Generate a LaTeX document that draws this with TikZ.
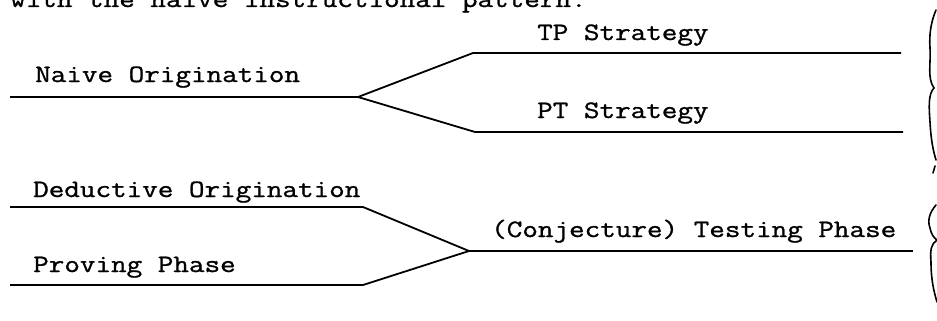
\documentclass[tikz,border=0pt]{standalone}
\usepackage{fontspec}
\newcommand{\tw}[1]{\special{pdf:literal 2 Tr 0.25 w}\scalebox{1.21}[1]{#1}\special{pdf:literal 0 Tr}}
\begin{document}
\begin{tikzpicture}[x=1pt,y=-1pt,
  lbl/.style={anchor=base west,inner sep=0pt,font=\ttfamily\fontsize{25}{30}\selectfont},
  wire/.style={line width=1.8pt,line join=miter},
  brace/.style={line width=1.6pt,line cap=round}]
\useasboundingbox (0,0) rectangle (937,321);
\clip (0,0) rectangle (937,321);
% cut-off caption line at the top
\node[lbl] (cap) at (10,7) {\tw{with the naive instructional pattern:}};
% labels
\node[lbl] (naive) at (35,82) {\tw{Naive Origination}};
\node[lbl] (tp) at (537,40) {\tw{TP Strategy}};
\node[lbl] (pt) at (537,118) {\tw{PT Strategy}};
\node[lbl] (ded) at (33,197) {\tw{Deductive Origination}};
\node[lbl] (prov) at (33,272) {\tw{Proving Phase}};
\node[lbl] (test) at (491,237) {\tw{(Conjecture) Testing Phase}};
% junction coordinates
\coordinate (n0) at (10,97);
\coordinate (fork) at (358,97);
\coordinate (tpk) at (473,53);
\coordinate (tpe) at (901,53);
\coordinate (ptk) at (475,132);
\coordinate (pte) at (903,132);
\coordinate (d0) at (10,207);
\coordinate (dk) at (363,207);
\coordinate (p0) at (10,285);
\coordinate (pk) at (363,285);
\coordinate (join) at (469,251);
\coordinate (te) at (913,251);
% connectors
\draw[wire] (n0) -- (fork) -- (tpk) -- (tpe);
\draw[wire] (fork) -- (ptk) -- (pte);
\draw[wire] (d0) -- (dk) -- (join);
\draw[wire] (p0) -- (pk) -- (join);
\draw[wire] (join) -- (te);
% braces
\draw[brace] (936,10) .. controls (931,22) and (929,34) .. (930,48)
  .. controls (931,64) and (927,78) .. (934,88)
  .. controls (928,94) and (929,108) .. (930,122)
  .. controls (931,140) and (933,150) .. (936,160);
\draw[brace] (935,166) -- (933,173);
\draw[brace] (936,205) .. controls (930,212) and (927,220) .. (930,228)
  .. controls (931,234) and (934,238) .. (937,240)
  .. controls (931,244) and (930,250) .. (931,262)
  .. controls (931,280) and (934,292) .. (937,302);
\end{tikzpicture}
\end{document}
